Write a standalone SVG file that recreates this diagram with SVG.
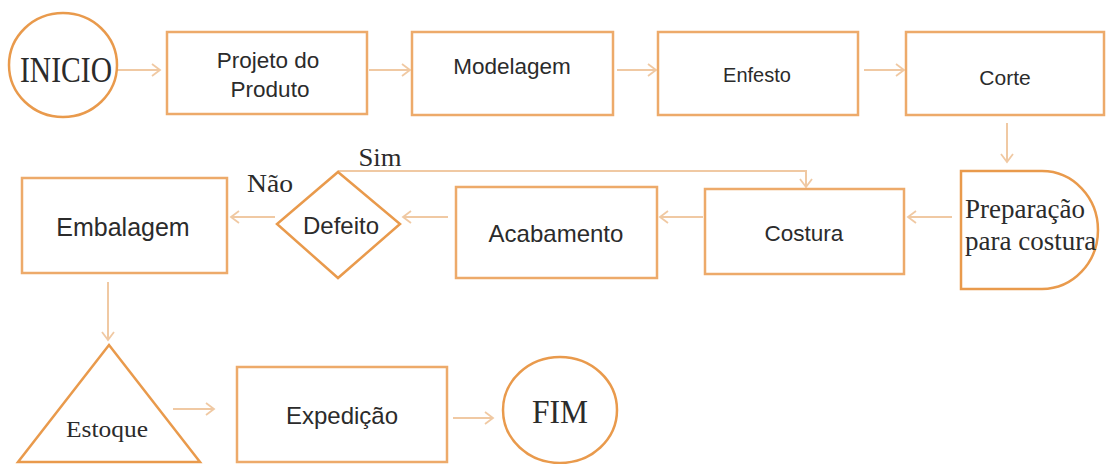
<svg xmlns="http://www.w3.org/2000/svg" width="1109" height="464" viewBox="0 0 1109 464">
<defs>
<style>
.box{fill:#fff;stroke:#EDAA6A;stroke-width:2.5}
.shp{fill:#fff;stroke:#E99A4C;stroke-width:2.5}
.con{fill:none;stroke:#F0C9A3;stroke-width:2}
.sans{font-family:"Liberation Sans",Arial,sans-serif;fill:#2b2b2b;text-anchor:middle}
.serif{font-family:"Liberation Serif","Times New Roman",serif;fill:#2b2b2b}
.mid{text-anchor:middle}
</style>
<marker id="ah" markerUnits="userSpaceOnUse" markerWidth="14" markerHeight="16" refX="10" refY="7" orient="auto">
<path d="M2,1 L10,7 L2,13" fill="none" stroke="#F0C9A3" stroke-width="1.8"/>
</marker>
</defs>
<rect width="1109" height="464" fill="#fff"/>
<g id="connectors" class="con" marker-end="url(#ah)">
<path d="M116,70 H160"/>
<path d="M369,70 H410"/>
<path d="M617,70 H656"/>
<path d="M864,70 H904"/>
<path d="M1007,123 V162"/>
<path d="M952,217 H908"/>
<path d="M703,217 H660"/>
<path d="M448,217 H403"/>
<path d="M275,217 H231"/>
<path d="M338,171 H806 V187"/>
<path d="M108,282 V340"/>
<path d="M173,409 H214"/>
<path d="M453,418 H493"/>
</g>
<g id="inicio"><ellipse class="shp" cx="63" cy="65" rx="54" ry="52"/><text class="serif mid" x="66" y="82" font-size="36" textLength="92" lengthAdjust="spacingAndGlyphs">INICIO</text></g>
<g id="projeto"><rect class="box" x="167" y="32" width="200" height="82"/><text class="sans" x="268" y="68" font-size="22.5">Projeto do</text><text class="sans" x="270" y="97" font-size="22.5">Produto</text></g>
<g id="modelagem"><rect class="box" x="412" y="32" width="201" height="83"/><text class="sans" x="512" y="74" font-size="22.5">Modelagem</text></g>
<g id="enfesto"><rect class="box" x="658" y="32" width="200" height="83"/><text class="sans" x="757" y="82" font-size="20">Enfesto</text></g>
<g id="corte"><rect class="box" x="906" y="32" width="198" height="83"/><text class="sans" x="1005" y="85" font-size="21">Corte</text></g>
<g id="preparacao"><path class="shp" d="M961,171 H1042 A56,59 0 0 1 1042,289 H961 Z"/><text class="serif" x="965" y="218" font-size="27">Preparação</text><text class="serif" x="965" y="250" font-size="27">para costura</text></g>
<g id="costura"><rect class="box" x="705" y="189" width="199" height="85"/><text class="sans" x="804" y="241" font-size="22.5">Costura</text></g>
<g id="acabamento"><rect class="box" x="456" y="187" width="201" height="91"/><text class="sans" x="556" y="242" font-size="24">Acabamento</text></g>
<g id="defeito"><polygon class="shp" points="338,172 400,224 338,278 277,224"/><text class="sans" x="341" y="234" font-size="24">Defeito</text></g>
<g id="embalagem"><rect class="box" x="22" y="178" width="205" height="95"/><text class="sans" x="123" y="236" font-size="25">Embalagem</text></g>
<g id="labels"><text class="serif mid" x="270" y="192" font-size="25" textLength="46" lengthAdjust="spacingAndGlyphs">Não</text><text class="serif mid" x="380" y="166" font-size="25" textLength="43" lengthAdjust="spacingAndGlyphs">Sim</text></g>
<g id="estoque"><polygon class="shp" points="109,345 200,462 18,462"/><text class="serif mid" x="107" y="437" font-size="23" textLength="82" lengthAdjust="spacingAndGlyphs">Estoque</text></g>
<g id="expedicao"><rect class="box" x="237" y="367" width="210" height="95"/><text class="sans" x="342" y="424" font-size="24">Expedição</text></g>
<g id="fim"><ellipse class="shp" cx="560" cy="410" rx="57" ry="53"/><text class="serif mid" x="560" y="423" font-size="34" textLength="56" lengthAdjust="spacingAndGlyphs">FIM</text></g>
</svg>
